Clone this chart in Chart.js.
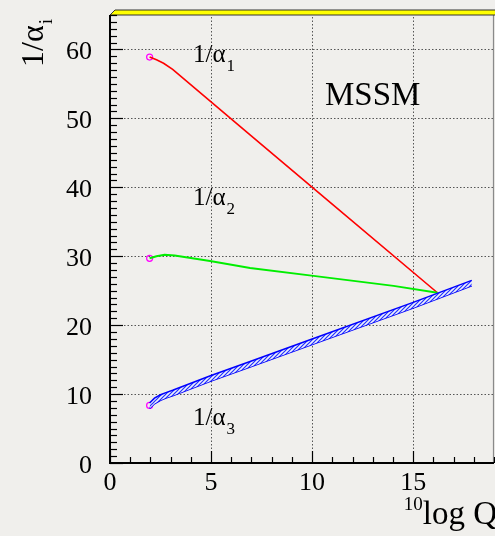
<!DOCTYPE html>
<html><head><meta charset="utf-8">
<script src="https://cdn.jsdelivr.net/npm/chart.js@4"></script>
<style>html,body{margin:0;padding:0;background:#f0efec;overflow:hidden}canvas{display:block}</style>
</head><body>
<canvas id="c" width="495" height="536"></canvas>
<script>
// ---- data ----
const logQ1 = [1.96, 2.3, 2.65, 3.1, 6.93, 10.73, 16.2];
const invAlpha1 = [58.9, 58.5, 58.0, 57.1, 47.6, 38.2, 24.7];
const logQ2 = [1.96, 2.3, 2.7, 3.2, 4.95, 6.93, 10.07, 14.03, 16.2];
const invAlpha2 = [29.7, 30.0, 30.2, 30.1, 29.3, 28.3, 27.15, 25.7, 24.7];
const logQ3 = [1.96, 2.2, 2.5, 2.8, 3.1, 5, 7, 10, 15, 17.9];
const invAlpha3 = [8.3, 9.0, 9.5, 9.85, 10.15, 12.3, 14.4, 17.6, 22.9, 26.1];
const invAlpha3Err = [0.4, 0.4, 0.4, 0.4, 0.4, 0.4, 0.4, 0.4, 0.4, 0.4];
const startQ = [1.96, 1.96, 1.96];
const startVals = [58.9, 29.7, 8.35];
const xTicks = [0, 5, 10, 15];
const yTicks = [0, 10, 20, 30, 40, 50, 60];

const FONT = "'Liberation Serif','Times New Roman',serif";
const pts = (xs, ys) => xs.map((x, i) => ({x, y: ys[i]}));

const canvas = document.getElementById('c');
const ctx = canvas.getContext('2d');

function hatch() {
  const c = document.createElement('canvas');
  c.width = 4; c.height = 4;
  const g = c.getContext('2d');
  g.fillStyle = '#eef0fb';
  g.fillRect(0, 0, 4, 4);
  g.strokeStyle = '#2030ff';
  g.lineWidth = 1.2;
  g.beginPath();
  g.moveTo(-1, 5); g.lineTo(5, -1);
  g.moveTo(-1, 1); g.lineTo(1, -1);
  g.moveTo(3, 5); g.lineTo(5, 3);
  g.stroke();
  return ctx.createPattern(c, 'repeat');
}

const deco = {
  id: 'deco',
  beforeDraw(chart) {
    const c = chart.ctx;
    c.save();
    c.fillStyle = '#f0efec';
    c.fillRect(0, 0, chart.width, chart.height);
    c.restore();
  },
  beforeDatasetsDraw(chart) {
    const c = chart.ctx, a = chart.chartArea, xs = chart.scales.x, ys = chart.scales.y;
    c.save();
    c.strokeStyle = '#555';
    c.lineWidth = 1;
    c.setLineDash([1.5, 2]);
    yTicks.forEach(v => {
      if (v === 0) return;
      const y = Math.round(ys.getPixelForValue(v)) + 0.5;
      c.beginPath(); c.moveTo(a.left, y); c.lineTo(a.right, y); c.stroke();
    });
    xTicks.forEach(v => {
      if (v === 0) return;
      const x = Math.round(xs.getPixelForValue(v)) + 0.5;
      c.beginPath(); c.moveTo(x, a.bottom); c.lineTo(x, a.top); c.stroke();
    });
    c.restore();
  },
  afterDatasetsDraw(chart) {
    const c = chart.ctx, a = chart.chartArea, xs = chart.scales.x, ys = chart.scales.y;
    c.save();
    // right border
    c.strokeStyle = '#8a8a8a';
    c.lineWidth = 1.2;
    c.beginPath(); c.moveTo(a.right - 0.5, a.top - 5); c.lineTo(a.right - 0.5, a.bottom); c.stroke();
    // top yellow bar
    c.fillStyle = '#ffff00';
    c.strokeStyle = '#333';
    c.lineWidth = 1;
    c.beginPath();
    c.moveTo(a.left, a.top); c.lineTo(a.left + 5, a.top - 5); c.lineTo(a.right + 5, a.top - 5);
    c.lineTo(a.right + 5, a.top); c.closePath();
    c.fill(); c.stroke();
    // axes
    c.strokeStyle = '#000';
    c.lineWidth = 2;
    c.beginPath(); c.moveTo(a.left, a.top); c.lineTo(a.left, a.bottom); c.lineTo(a.right, a.bottom); c.stroke();
    // ticks (inside)
    c.lineWidth = 1.2;
    for (let v = ys.min; v <= ys.max; v += 1) {
      const y = Math.round(ys.getPixelForValue(v)) + 0.5;
      const L = (v % 10 === 0) ? 13 : 7;
      c.beginPath(); c.moveTo(a.left, y); c.lineTo(a.left + L, y); c.stroke();
    }
    for (let v = xs.min; v <= xs.max; v += 1) {
      const x = Math.round(xs.getPixelForValue(v)) + 0.5;
      const L = (v % 5 === 0) ? 12 : 6;
      c.beginPath(); c.moveTo(x, a.bottom); c.lineTo(x, a.bottom - L); c.stroke();
    }
    // tick labels
    c.fillStyle = '#000';
    c.font = '26px ' + FONT;
    c.textAlign = 'right';
    c.textBaseline = 'alphabetic';
    yTicks.forEach(v => {
      const y = ys.getPixelForValue(v);
      c.fillText(String(v), a.left - 18, y + 10);
    });
    c.textAlign = 'center';
    xTicks.forEach(v => {
      const x = xs.getPixelForValue(v);
      c.fillText(String(v), x, a.bottom + 27);
    });
    // labels
    c.textAlign = 'left';
    const lab = (x, y, sub) => {
      c.font = '25px ' + FONT;
      c.fillText('1/\u03b1', x, y);
      const w = c.measureText('1/\u03b1').width;
      c.font = '17px ' + FONT;
      c.fillText(sub, x + w + 1, y + 9);
    };
    lab(193, 62, '1');
    lab(193, 205, '2');
    lab(193, 425, '3');
    c.font = '33px ' + FONT;
    c.fillText('MSSM', 325, 105);
    // x title
    c.textAlign = 'right';
    c.font = '33px ' + FONT;
    c.fillText('log Q', 497, 524);
    const wl = c.measureText('log Q').width;
    c.font = '19px ' + FONT;
    c.fillText('10', 497 - wl, 510);
    // y title
    c.save();
    c.translate(43, 67);
    c.rotate(-Math.PI / 2);
    c.textAlign = 'left';
    c.font = '32px ' + FONT;
    c.fillText('1/\u03b1', 0, 0);
    const wy = c.measureText('1/\u03b1').width;
    c.font = '19px ' + FONT;
    c.fillText('i', wy + 1, 9);
    c.restore();
    c.restore();
  }
};

const band = hatch();

new Chart(ctx, {
  type: 'scatter',
  data: {
    datasets: [
      {data: pts(logQ3, invAlpha3.map((v, i) => v + invAlpha3Err[i])), showLine: true, borderColor: '#0000ff', borderWidth: 1.5, pointRadius: 0, fill: '+1', backgroundColor: band, tension: 0},
      {data: pts(logQ3, invAlpha3.map((v, i) => v - invAlpha3Err[i])), showLine: true, borderColor: '#0000ff', borderWidth: 1.5, pointRadius: 0, fill: false, tension: 0},
      {data: pts(logQ2, invAlpha2), showLine: true, borderColor: '#00ee00', borderWidth: 2, pointRadius: 0, fill: false, tension: 0},
      {data: pts(logQ1, invAlpha1), showLine: true, borderColor: '#ff0000', borderWidth: 1.6, pointRadius: 0, fill: false, tension: 0},
      {data: pts(startQ, startVals), showLine: false, pointStyle: 'circle', pointRadius: 3, borderColor: '#ff00ff', backgroundColor: 'rgba(0,0,0,0)', borderWidth: 1.2}
    ]
  },
  options: {
    responsive: false,
    animation: false,
    devicePixelRatio: 1,
    layout: {autoPadding: false, padding: {left: 110, top: 15, right: 1, bottom: 73}},
    plugins: {legend: {display: false}, tooltip: {enabled: false}},
    scales: {
      x: {type: 'linear', min: 0, max: 19, display: false},
      y: {type: 'linear', min: 0, max: 65, display: false}
    }
  },
  plugins: [deco]
});
</script>
</body></html>
